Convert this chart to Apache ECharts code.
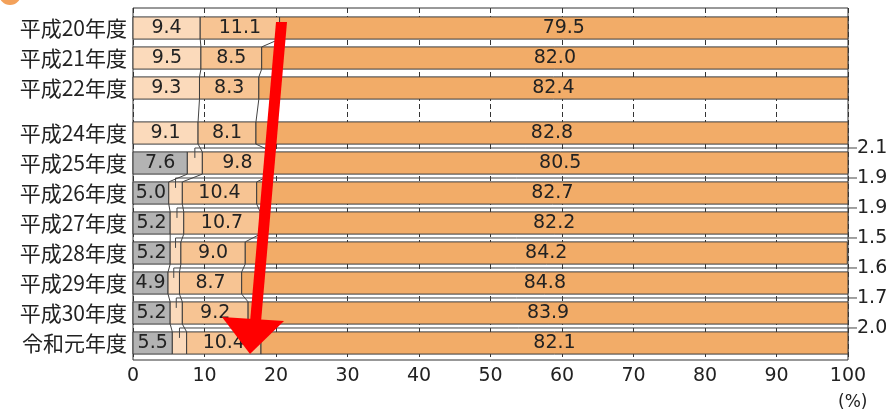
<!DOCTYPE html>
<html>
<head>
<meta charset="utf-8">
<script src="https://cdn.jsdelivr.net/npm/echarts@6/dist/echarts.min.js"></script>
<style>
  html, body { margin: 0; padding: 0; background: #ffffff; }
  #chart { width: 886px; height: 413px; }
</style>
</head>
<body>
<div id="chart"></div>
<script>
// Survey years (平成23年度 was not surveyed, leaving a gap in the list)
const years = ['平成20年度', '平成21年度', '平成22年度', '平成24年度', '平成25年度', '平成26年度',
               '平成27年度', '平成28年度', '平成29年度', '平成30年度', '令和元年度'];
// Shares (%) per answer group, one value per year
const grayVals   = [null, null, null, null, 7.6, 5.0, 5.2, 5.2, 4.9, 5.2, 5.5];
const lightVals  = [9.4, 9.5, 9.3, 9.1, 2.1, 1.9, 1.9, 1.5, 1.6, 1.7, 2.0];
const peachVals  = [11.1, 8.5, 8.3, 8.1, 9.8, 10.4, 10.7, 9.0, 8.7, 9.2, 10.4];
const orangeVals = [79.5, 82.0, 82.4, 82.8, 80.5, 82.7, 82.2, 84.2, 84.8, 83.9, 82.1];
const xTicks = [0, 10, 20, 30, 40, 50, 60, 70, 80, 90, 100];

const groups = [grayVals, lightVals, peachVals, orangeVals];
const colors = ['#b3b3b3', '#fbdabb', '#f7c493', '#f2ac68'];
const BORDER = '#3c3c3c';
const TEXT = '#222222';
const NUM_FONT = '"DejaVu Sans", sans-serif';
const BAR_SPAN = 0.74;   // bar thickness in row units

// Row position on the vertical axis: the missing year opens half a row of space
function rowPos(i) { return i + (i >= 3 ? 0.5 : 0); }

// Cumulative boundaries for every row: starts[g][i], ends[g][i]
const starts = groups.map(() => []), ends = groups.map(() => []);
years.forEach((_, i) => {
  let acc = 0;
  groups.forEach((g, gi) => {
    const v = g[i];
    starts[gi][i] = acc;
    if (v != null) acc += v;
    ends[gi][i] = acc;
  });
});

function segmentSeries(gi) {
  const data = [];
  years.forEach((_, i) => {
    const v = groups[gi][i];
    if (v == null) return;
    data.push([starts[gi][i], ends[gi][i], rowPos(i), v]);
  });
  return {
    type: 'custom',
    name: 'g' + gi,
    data: data,
    z: 3,
    renderItem: function (params, api) {
      const a = api.coord([api.value(0), api.value(2)]);
      const b = api.coord([api.value(1), api.value(2)]);
      const h = api.size([0, BAR_SPAN])[1];
      const v = api.value(3);
      const el = {
        type: 'rect',
        shape: { x: a[0], y: a[1] - h / 2, width: b[0] - a[0], height: h },
        style: { fill: colors[gi], stroke: BORDER, lineWidth: 1 }
      };
      if (v >= 3) {
        el.textContent = {
          style: { text: v.toFixed(1), font: '19px ' + NUM_FONT, fill: TEXT }
        };
        el.textConfig = { position: 'inside' };
      }
      return el;
    }
  };
}

// Connector lines joining the same boundary on neighbouring rows
const connectorData = [];
for (let i = 0; i < years.length - 1; i++) {
  for (let gi = 0; gi < groups.length - 1; gi++) {
    if (groups[gi][i] != null && groups[gi][i + 1] != null &&
        groups[gi + 1][i] != null && groups[gi + 1][i + 1] != null) {
      connectorData.push([ends[gi][i], rowPos(i), ends[gi][i + 1], rowPos(i + 1)]);
    }
  }
}

// Leader lines for the thin segment, carried out to the right edge
const leaderData = [];
years.forEach((_, i) => {
  if (grayVals[i] != null) {
    leaderData.push([(starts[1][i] + ends[1][i]) / 2, rowPos(i), lightVals[i]]);
  }
});

const chart = echarts.init(document.getElementById('chart'), null, { renderer: 'canvas' });

chart.setOption({
  animation: false,
  backgroundColor: '#ffffff',
  grid: { left: 133, right: 38, top: 8, bottom: 53, show: true, borderColor: '#333', borderWidth: 1, backgroundColor: 'transparent' },
  xAxis: {
    type: 'value', min: xTicks[0], max: xTicks[xTicks.length - 1], interval: 10,
    axisLine: { show: false },
    axisTick: { show: false },
    axisLabel: { margin: 7, fontSize: 19, fontFamily: NUM_FONT, color: TEXT },
    splitLine: { show: true, lineStyle: { color: '#333', width: 1, type: [5, 3] } }
  },
  yAxis: { type: 'value', inverse: true, min: -0.667, max: 11.067, show: false },
  series: [
    segmentSeries(0), segmentSeries(1), segmentSeries(2), segmentSeries(3),
    {
      type: 'custom', name: 'connectors', data: connectorData, z: 4,
      renderItem: function (params, api) {
        const h = api.size([0, BAR_SPAN])[1];
        const a = api.coord([api.value(0), api.value(1)]);
        const b = api.coord([api.value(2), api.value(3)]);
        return {
          type: 'line',
          shape: { x1: a[0], y1: a[1] + h / 2, x2: b[0], y2: b[1] - h / 2 },
          style: { stroke: '#444', lineWidth: 1 }
        };
      }
    },
    {
      type: 'custom', name: 'leaders', data: leaderData, z: 4, clip: false,
      renderItem: function (params, api) {
        const h = api.size([0, BAR_SPAN])[1];
        const pos = api.value(1);
        const start = api.coord([api.value(0), pos]);
        const gap = api.coord([api.value(0), pos - 0.5]);
        const edge = api.coord([xTicks[xTicks.length - 1], pos - 0.5]);
        return {
          type: 'group',
          children: [
            {
              type: 'polyline',
              shape: { points: [[start[0], start[1] - h / 2 + 6], [gap[0], gap[1]], [edge[0] + 9, gap[1]]] },
              style: { stroke: '#444', lineWidth: 1, fill: null }
            },
            {
              type: 'text',
              style: {
                x: edge[0] + 9, y: gap[1], text: api.value(2).toFixed(1),
                font: '19px ' + NUM_FONT, fill: TEXT, verticalAlign: 'middle', align: 'left'
              }
            }
          ]
        };
      }
    },
    {
      type: 'custom', name: 'rowLabels', clip: false, z: 5,
      data: years.map((y, i) => [0, rowPos(i), i]),
      renderItem: function (params, api) {
        const p = api.coord([api.value(0), api.value(1)]);
        return {
          type: 'text',
          style: {
            x: p[0] - 6, y: p[1], text: years[api.value(2)],
            font: '21px "Noto Sans CJK JP", sans-serif', fill: TEXT,
            align: 'right', verticalAlign: 'middle'
          }
        };
      }
    }
  ],
  graphic: [
    { type: 'circle', shape: { cx: 10, cy: -6, r: 11 }, style: { fill: '#f3a15a' } },
    { type: 'text', left: 838, top: 394, style: { text: '(%)', font: '17px ' + NUM_FONT, fill: TEXT } },
    // red downward arrow drawn over the chart
    { type: 'polygon', z: 100, shape: { points: [[276, 22], [287, 22], [261, 322], [250, 322]] }, style: { fill: '#ff0000' } },
    { type: 'polygon', z: 100, shape: { points: [[222, 317], [284, 321], [250, 354]] }, style: { fill: '#ff0000' } }
  ]
});
</script>
</body>
</html>
